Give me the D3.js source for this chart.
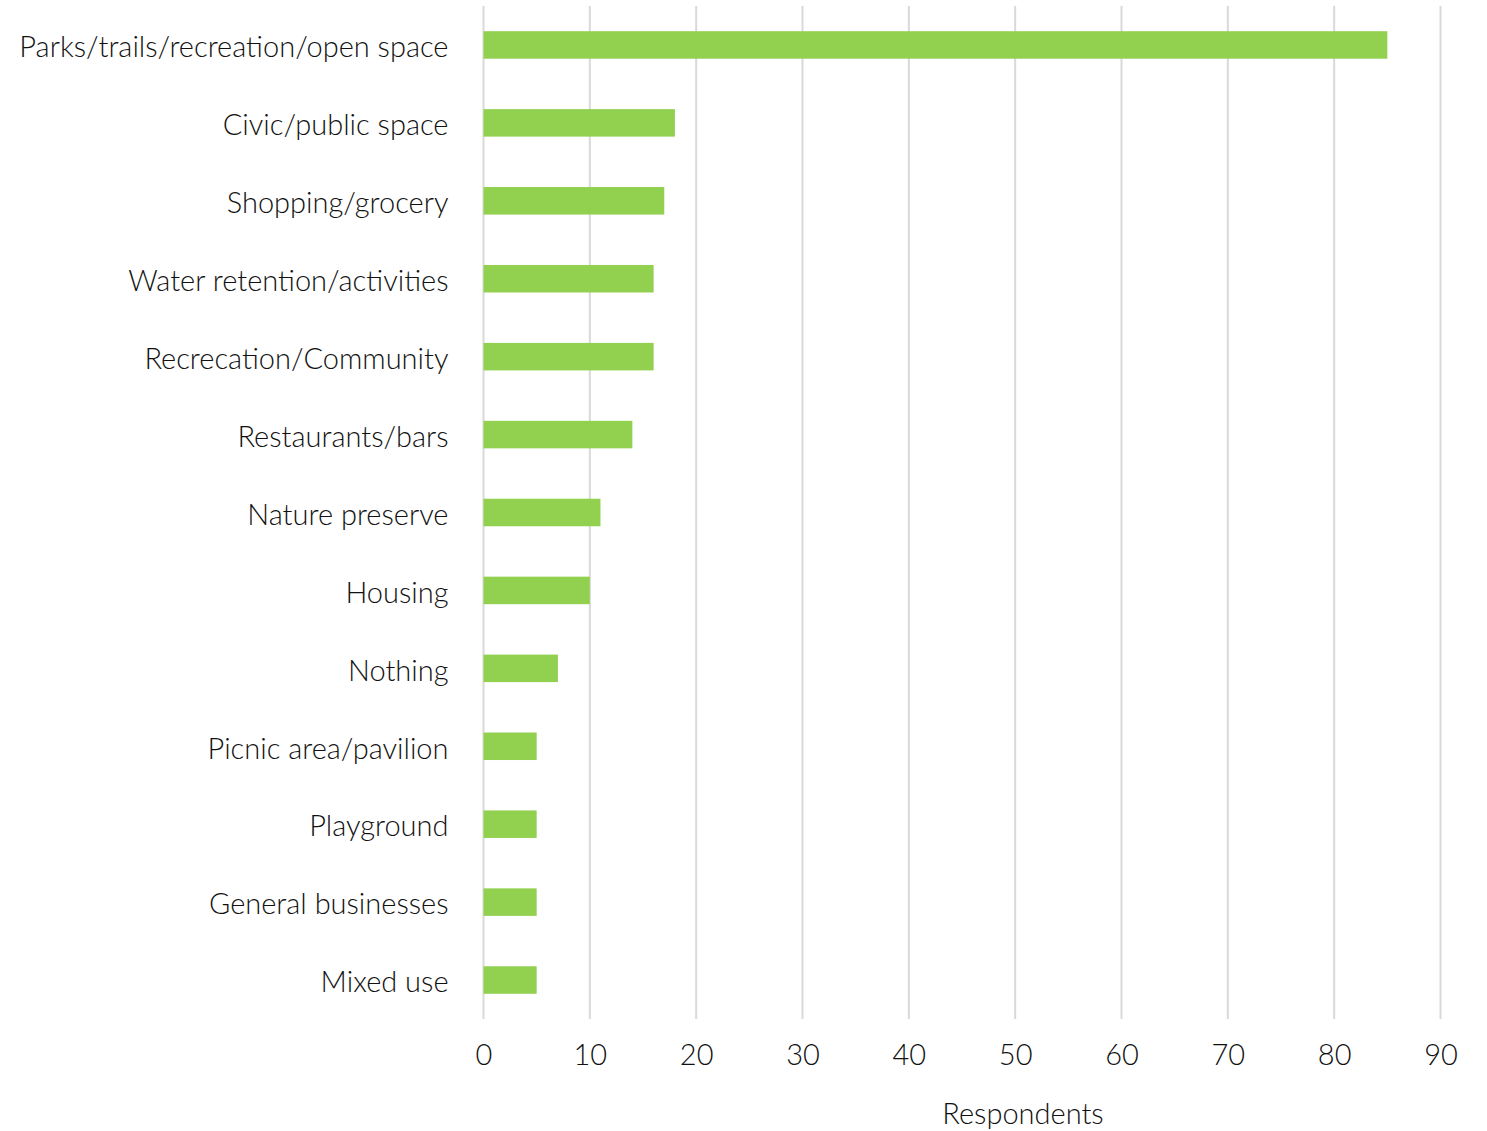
<!DOCTYPE html>
<html>
<head>
<meta charset="utf-8">
<script src="https://cdn.jsdelivr.net/npm/d3@7"></script>
<style>
  html, body { margin: 0; padding: 0; background: #fff; }
  svg text { font-family: Lato, "Open Sans", sans-serif; font-weight: 300; fill: #111; }
</style>
</head>
<body>
<svg id="chart" width="1487" height="1131"></svg>
<script>
const categories = [
  "Parks/trails/recreation/open space",
  "Civic/public space",
  "Shopping/grocery",
  "Water retention/activities",
  "Recrecation/Community",
  "Restaurants/bars",
  "Nature preserve",
  "Housing",
  "Nothing",
  "Picnic area/pavilion",
  "Playground",
  "General businesses",
  "Mixed use"
];
const respondents = [85, 18, 17, 16, 16, 14, 11, 10, 7, 5, 5, 5, 5];
const xTicks = [0, 10, 20, 30, 40, 50, 60, 70, 80, 90];
const axisTitle = "Respondents";

const svg = d3.select("#chart");
const plot = { left: 483.5, right: 1440.5, top: 6, bottom: 1019 };
const fontSize = 29;

const x = d3.scaleLinear().domain([0, 90]).range([plot.left, plot.right]);
const y = d3.scaleBand()
  .domain(categories)
  .range([plot.top, plot.bottom])
  .paddingInner(0.647)
  .paddingOuter(0.3235);

// vertical gridlines
svg.append("g")
  .selectAll("line")
  .data(xTicks)
  .join("line")
  .attr("x1", d => x(d)).attr("x2", d => x(d))
  .attr("y1", plot.top).attr("y2", plot.bottom)
  .attr("stroke", "#d9d9d9")
  .attr("stroke-width", 2);

// bars
svg.append("g")
  .selectAll("rect")
  .data(categories)
  .join("rect")
  .attr("x", x(0))
  .attr("y", d => y(d))
  .attr("width", (d, i) => x(respondents[i]) - x(0))
  .attr("height", y.bandwidth())
  .attr("fill", "#92d050");

// category labels
const yAxis = d3.axisLeft(y).tickSize(0).tickPadding(35);
svg.append("g")
  .attr("transform", `translate(${plot.left},3)`)
  .call(yAxis)
  .call(g => g.select(".domain").remove())
  .call(g => g.selectAll("text")
    .attr("font-size", fontSize)
    .attr("font-family", "Lato, sans-serif")
    .attr("font-weight", 300)
    .attr("fill", "#111"));

// x tick labels
const xAxis = d3.axisBottom(x).tickValues(xTicks).tickSize(0).tickPadding(25);
svg.append("g")
  .attr("transform", `translate(0,${plot.bottom})`)
  .call(xAxis)
  .call(g => g.select(".domain").remove())
  .call(g => g.selectAll("text")
    .attr("font-size", fontSize)
    .attr("font-family", "Lato, sans-serif")
    .attr("font-weight", 300)
    .attr("fill", "#111"));

// axis title
svg.append("text")
  .attr("x", 1023)
  .attr("y", 1124)
  .attr("text-anchor", "middle")
  .attr("font-size", fontSize)
  .text(axisTitle);
</script>
</body>
</html>
